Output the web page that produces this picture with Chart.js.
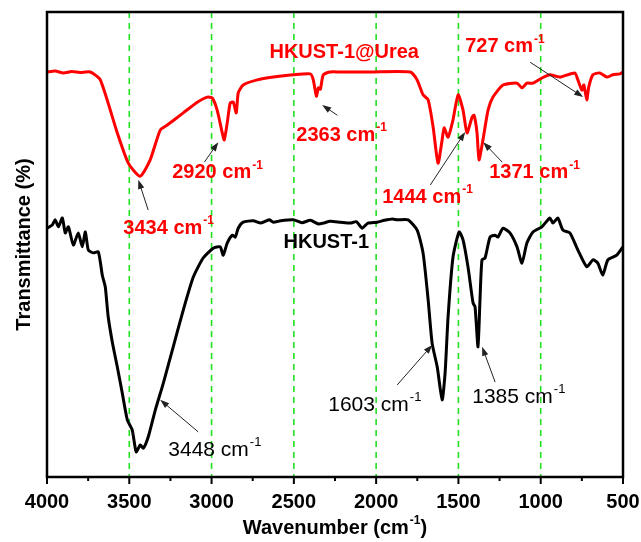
<!DOCTYPE html>
<html>
<head>
<meta charset="utf-8">
<title>FTIR HKUST-1</title>
<script src="https://cdn.jsdelivr.net/npm/chart.js@4.4.1/dist/chart.umd.min.js"></script>
<style>
  html, body { margin: 0; padding: 0; background: #fff; }
</style>
</head>
<body>
<canvas id="ftir" width="641" height="542"></canvas>
<script>
// FTIR spectra - HKUST-1 vs HKUST-1@Urea

// HKUST-1@Urea (red)
const ureaWn = [4000, 3950, 3900, 3850, 3800, 3737, 3676, 3573, 3506, 3434, 3373, 3312, 3269, 3172, 3087, 3026, 2996, 2966, 2935, 2923, 2905, 2887, 2868, 2850, 2838, 2808, 2722, 2625, 2504, 2400, 2382, 2363, 2351, 2339, 2321, 2279, 2218, 2036, 1793, 1751, 1715, 1684, 1654, 1624, 1599, 1587, 1563, 1533, 1502, 1472, 1448, 1417, 1405, 1387, 1375, 1351, 1320, 1290, 1229, 1144, 1114, 1084, 1047, 993, 944, 884, 793, 774, 750, 738, 720, 708, 683, 641, 598, 562, 519, 500];
const ureaT  = [87.1, 87.3, 86.9, 87.2, 87.0, 87.1, 85.4, 74.0, 67.5, 64.7, 68.2, 74.6, 75.7, 78.3, 80.6, 81.7, 81.5, 78.9, 74.0, 72.5, 76.1, 80.4, 80.6, 78.3, 82.6, 84.3, 85.4, 86.0, 86.5, 86.7, 85.4, 81.9, 83.7, 83.4, 86.5, 87.1, 87.1, 87.1, 87.1, 85.4, 82.2, 81.1, 75.3, 67.5, 72.5, 75.1, 73.1, 76.8, 82.2, 78.9, 74.0, 77.4, 77.8, 74.0, 68.2, 72.5, 78.9, 81.7, 84.3, 84.7, 83.7, 84.7, 84.7, 85.8, 86.5, 86.0, 86.9, 85.4, 83.2, 84.3, 81.1, 83.9, 86.5, 86.9, 86.0, 86.5, 86.7, 87.1];

// HKUST-1 (black)
const hkustWn = [4000, 3968, 3950, 3931, 3907, 3889, 3870, 3840, 3810, 3786, 3767, 3749, 3719, 3688, 3664, 3646, 3628, 3603, 3573, 3543, 3512, 3482, 3458, 3433, 3415, 3385, 3342, 3293, 3233, 3172, 3111, 3051, 2990, 2948, 2929, 2905, 2874, 2856, 2838, 2808, 2747, 2700, 2650, 2625, 2580, 2504, 2450, 2400, 2350, 2321, 2280, 2218, 2157, 2120, 2085, 2050, 1994, 1950, 1900, 1873, 1806, 1751, 1715, 1684, 1660, 1629, 1599, 1581, 1563, 1533, 1496, 1472, 1442, 1411, 1399, 1381, 1369, 1357, 1338, 1308, 1278, 1260, 1229, 1187, 1144, 1114, 1084, 1047, 993, 944, 926, 896, 865, 823, 774, 720, 683, 653, 623, 592, 538, 500];
const hkustT  = [53.5, 54.2, 55.3, 53.8, 55.7, 52.5, 53.8, 49.9, 52.5, 49.5, 52.7, 48.8, 48.2, 48.4, 43.4, 40.9, 34.4, 29.0, 23.7, 18.1, 12.3, 10.1, 5.4, 6.9, 6.2, 8.6, 14.4, 20.2, 28.0, 35.9, 43.0, 47.1, 49.2, 49.5, 47.7, 50.3, 52.0, 51.6, 53.5, 54.8, 55.1, 54.6, 55.3, 54.8, 55.1, 55.3, 54.7, 55.2, 54.4, 54.6, 55.0, 54.8, 54.6, 54.9, 53.5, 54.6, 54.8, 55.2, 55.5, 55.3, 55.3, 53.1, 48.2, 38.1, 28.8, 23.7, 16.6, 22.4, 34.4, 47.3, 52.7, 51.0, 45.2, 37.4, 36.6, 28.0, 38.1, 46.7, 47.1, 51.6, 52.0, 51.6, 53.5, 52.5, 49.5, 46.0, 50.3, 52.7, 53.8, 55.7, 54.6, 55.7, 53.1, 52.5, 48.8, 45.2, 46.7, 46.0, 43.4, 46.7, 47.7, 49.5];

// axis ticks and reference lines
const xTicks = [4000, 3500, 3000, 2500, 2000, 1500, 1000, 500];
const minorTicks = [3750, 3250, 2750, 2250, 1750, 1250, 750];
const guideLines = [3500, 3000, 2500, 2000, 1500, 1000];

// peak labels: [text, series, label wn, label T, arrow tail wn, tail T, arrow head wn, head T]
const peakLabels = [
    ['3434 cm', 'urea', 3536, 53.5, 3385, 57.4, 3445, 63.9],
    ['2920 cm', 'urea', 3239, 65.4, 3044, 67.7, 2959, 72.0],
    ['2363 cm', 'urea', 2485, 73.5, 2236, 77.8, 2328, 80.0],
    ['1444 cm', 'urea', 1963, 60.2, 1671, 62.8, 1459, 74.2],
    ['1371 cm', 'urea', 1313, 65.4, 1234, 67.7, 1349, 72.0],
    ['727 cm',  'urea', 1459, 92.5, 1064, 89.2, 742, 81.7],
    ['3448 cm', 'hkust', 3263, 5.8, 3081, 9.7, 3312, 16.6],
    ['1603 cm', 'hkust', 2291, 15.5, 1872, 19.8, 1659, 28.4],
    ['1385 cm', 'hkust', 1416, 17.2, 1277, 20.4, 1356, 28.0]
];

// series names placed on the plot: [text, colour, wn, T]
const seriesNames = [
    ['HKUST-1@Urea', '#ff0000', 2194, 91.4],
    ['HKUST-1', '#000000', 2303, 50.5]
];

const FONT = '"Liberation Sans", Arial, sans-serif';

// draws text runs, some of them raised as superscripts
function drawRuns(ctx, runs, x, y, size, weight, color, align) {
    const supSize = Math.round(size * 0.62);
    let total = 0;
    runs.forEach(([t, sup]) => {
        ctx.font = `${weight} ${sup ? supSize : size}px ${FONT}`;
        total += ctx.measureText(t).width + (sup ? 1 : 0);
    });
    let cx = align === 'center' ? x - total / 2 : x;
    ctx.fillStyle = color;
    ctx.textAlign = 'left';
    ctx.textBaseline = 'middle';
    runs.forEach(([t, sup]) => {
        ctx.font = `${weight} ${sup ? supSize : size}px ${FONT}`;
        if (sup) cx += 1;
        ctx.fillText(t, cx, sup ? y - size * 0.36 : y);
        cx += ctx.measureText(t).width;
    });
}

function drawArrow(ctx, x1, y1, x2, y2) {
    const ang = Math.atan2(y2 - y1, x2 - x1);
    const len = 9, half = 3.2;
    ctx.save();
    ctx.strokeStyle = '#222';
    ctx.fillStyle = '#222';
    ctx.lineWidth = 1;
    ctx.beginPath();
    ctx.moveTo(x1, y1);
    ctx.lineTo(x2 - Math.cos(ang) * len * 0.8, y2 - Math.sin(ang) * len * 0.8);
    ctx.stroke();
    ctx.beginPath();
    ctx.moveTo(x2, y2);
    ctx.lineTo(x2 - Math.cos(ang) * len - Math.sin(ang) * half, y2 - Math.sin(ang) * len + Math.cos(ang) * half);
    ctx.lineTo(x2 - Math.cos(ang) * len + Math.sin(ang) * half, y2 - Math.sin(ang) * len - Math.cos(ang) * half);
    ctx.closePath();
    ctx.fill();
    ctx.restore();
}

const ftirDecor = {
    id: 'ftirDecor',
    beforeDatasetsDraw(chart) {
        const { ctx, chartArea: a, scales: { x } } = chart;
        ctx.save();
        ctx.strokeStyle = '#22e022';
        ctx.lineWidth = 1.6;
        ctx.setLineDash([6, 5]);
        guideLines.forEach(v => {
            const px = x.getPixelForValue(v);
            ctx.beginPath();
            ctx.moveTo(px, a.top);
            ctx.lineTo(px, a.bottom);
            ctx.stroke();
        });
        ctx.restore();
    },
    afterDraw(chart) {
        const { ctx, chartArea: a, scales: { x, y } } = chart;

        // frame
        ctx.save();
        ctx.strokeStyle = '#000';
        ctx.lineWidth = 2.5;
        ctx.strokeRect(a.left, a.top, a.right - a.left, a.bottom - a.top);

        // bottom ticks
        ctx.lineWidth = 2;
        xTicks.forEach(v => {
            const px = x.getPixelForValue(v);
            ctx.beginPath(); ctx.moveTo(px, a.bottom); ctx.lineTo(px, a.bottom + 7); ctx.stroke();
        });
        minorTicks.forEach(v => {
            const px = x.getPixelForValue(v);
            ctx.beginPath(); ctx.moveTo(px, a.bottom); ctx.lineTo(px, a.bottom + 4); ctx.stroke();
        });
        ctx.restore();

        // series names
        seriesNames.forEach(([t, c, wn, tv]) => {
            drawRuns(ctx, [[t, false]], x.getPixelForValue(wn), y.getPixelForValue(tv), 20, 'bold', c, 'center');
        });

        // peak labels with arrows
        peakLabels.forEach(([t, s, lw, lt, tw, tt, hw, ht]) => {
            const red = s === 'urea';
            drawRuns(ctx, [[t, false], ['-1', true]], x.getPixelForValue(lw), y.getPixelForValue(lt), red ? 20 : 21,
                red ? 'bold' : 'normal', red ? '#ff0000' : '#000000', 'left');
            drawArrow(ctx, x.getPixelForValue(tw), y.getPixelForValue(tt), x.getPixelForValue(hw), y.getPixelForValue(ht));
        });

        // x axis title
        drawRuns(ctx, [['Wavenumber (cm', false], ['-1', true], [')', false]],
            (a.left + a.right) / 2, 528, 20, 'bold', '#000', 'center');
    }
};

const ctx = document.getElementById('ftir').getContext('2d');
new Chart(ctx, {
    type: 'line',
    data: {
        datasets: [
            {
                label: 'HKUST-1@Urea',
                data: ureaWn.map((w, i) => ({ x: w, y: ureaT[i] })),
                borderColor: '#ff0000',
                borderWidth: 3,
                pointRadius: 0,
                tension: 0.2,
                fill: false
            },
            {
                label: 'HKUST-1',
                data: hkustWn.map((w, i) => ({ x: w, y: hkustT[i] })),
                borderColor: '#000000',
                borderWidth: 3,
                pointRadius: 0,
                tension: 0.2,
                fill: false
            }
        ]
    },
    options: {
        responsive: false,
        animation: false,
        layout: { padding: { left: 0, right: 0, top: 12, bottom: 0 } },
        plugins: {
            legend: { display: false },
            tooltip: { enabled: false }
        },
        scales: {
            x: {
                type: 'linear',
                reverse: true,
                min: 500,
                max: 4000,
                afterFit: s => { s.height = 65; s.paddingLeft = 0; s.paddingRight = 18; },
                grid: { display: false, drawTicks: false },
                border: { display: false },
                ticks: {
                    stepSize: 500,
                    autoSkip: false,
                    maxRotation: 0,
                    padding: 13,
                    color: '#000',
                    font: { family: FONT, size: 20, weight: 'bold' },
                    callback: v => String(v)
                }
            },
            y: {
                min: 0,
                max: 100,
                afterFit: s => { s.width = 47; },
                grid: { display: false, drawTicks: false },
                border: { display: false },
                ticks: { display: false },
                title: {
                    display: true,
                    text: 'Transmittance (%)',
                    color: '#000',
                    padding: { top: 12, bottom: 0 },
                    font: { family: FONT, size: 20, weight: 'bold' }
                }
            }
        }
    },
    plugins: [ftirDecor]
});
</script>
</body>
</html>
